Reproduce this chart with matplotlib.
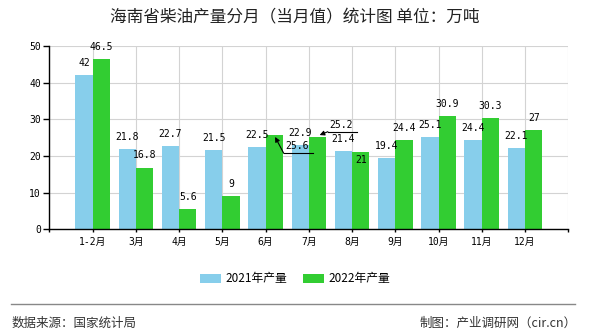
#!/usr/bin/env python3
# -*- coding: utf-8 -*-

# Import Python modules.
import matplotlib
matplotlib.use('Agg')
import matplotlib.pyplot as plt
from matplotlib.patches import Patch
from matplotlib.lines import Line2D
import numpy as np


# Chart data.
months = ['1-2月', '3月', '4月', '5月', '6月', '7月', '8月', '9月',
          '10月', '11月', '12月']
output_2021 = [42, 21.8, 22.7, 21.5, 22.5, 22.9, 21.4, 19.4, 25.1, 24.4, 22.1]
output_2022 = [46.5, 16.8, 5.6, 9, 25.6, 25.2, 21, 24.4, 30.9, 30.3, 27]
series_names = ['2021年产量', '2022年产量']
title = '海南省柴油产量分月（当月值）统计图 单位：万吨'
source_text = '数据来源：国家统计局'
credit_text = '制图：产业调研网（cir.cn）'

BLUE = '#87ceeb'
GREEN = '#32cd32'
CJK = ['Noto Sans CJK SC', 'DejaVu Sans']
NUM = ['DejaVu Sans Mono', 'Noto Sans CJK SC']

plt.rcParams['font.family'] = CJK

fig = plt.figure(figsize=(5.9, 3.3), dpi=100)
fig.patch.set_facecolor('white')
ax = fig.add_axes([0.0836, 0.3052, 0.8796, 0.5554])

x = np.arange(len(months))
w = 0.4
ax.bar(x - w / 2, output_2021, width=w, color=BLUE, zorder=2)
ax.bar(x + w / 2, output_2022, width=w, color=GREEN, zorder=2)

ax.set_xlim(-1, len(months))
ax.set_ylim(0, 50)
ax.set_xticks(np.arange(-1, len(months) + 1))
ax.set_xticklabels([''] + months + [''], family=NUM, fontsize=7)
ax.set_yticks(np.arange(0, 51, 10))
ax.set_yticklabels([str(v) for v in range(0, 51, 10)], family=NUM, fontsize=7)
ax.tick_params('x', length=2.5, width=1, pad=3, color='black')
ax.tick_params('y', length=4, width=1, pad=2, color='black')
ax.grid(True, color='#d3d3d3', linewidth=0.8, zorder=0)
ax.set_axisbelow(True)
for side in ['top', 'right']:
    ax.spines[side].set_visible(False)
for side in ['left', 'bottom']:
    ax.spines[side].set_color('black')
    ax.spines[side].set_linewidth(1)
    ax.spines[side].set_zorder(3)

# Value labels; a few are moved so they do not overlap.
lbl = dict(family=NUM, fontsize=7, ha='center', va='center', zorder=4)
for i, v in enumerate(output_2021):
    ax.annotate(f'{v:g}', xy=(i - w / 2, v), xytext=(0, 8.8),
                textcoords='offset points', **lbl)
for i, v in enumerate(output_2022):
    if months[i] == '6月':
        ax.text(i + w / 2 + 0.53, v - 2.9, f'{v:g}', **lbl)
        ax.plot([i + w / 2 + 0.22, i + w / 2 + 0.9], [v - 4.87, v - 4.87],
                color='black', lw=0.8, zorder=4)
        ax.annotate('', xy=(i + w / 2 + 0.02, v - 0.4),
                    xytext=(i + w / 2 + 0.22, v - 4.87),
                    arrowprops=dict(arrowstyle='-|>', color='black', lw=0.8,
                                    mutation_scale=7, shrinkA=0, shrinkB=0),
                    zorder=4)
    elif months[i] == '7月':
        ax.text(i + w / 2 + 0.54, v + 3.25, f'{v:g}', **lbl)
        ax.plot([i + w / 2 + 0.24, i + w / 2 + 0.91], [v + 1.42, v + 1.42],
                color='black', lw=0.8, zorder=4)
        ax.annotate('', xy=(i + w / 2 + 0.05, v + 0.5),
                    xytext=(i + w / 2 + 0.24, v + 1.42),
                    arrowprops=dict(arrowstyle='-|>', color='black', lw=0.8,
                                    mutation_scale=7, shrinkA=0, shrinkB=0),
                    zorder=4)
    elif months[i] == '8月':
        ax.text(i + w / 2, v - 2.1, f'{v:g}', **lbl)
    else:
        ax.annotate(f'{v:g}', xy=(i + w / 2, v), xytext=(0, 8.8),
                    textcoords='offset points', **lbl)

fig.text(0.5, 0.945, title, ha='center', va='center', fontsize=12,
         color='#222222')

handles = [Patch(facecolor=BLUE, edgecolor='none'),
           Patch(facecolor=GREEN, edgecolor='none')]
fig.legend(handles, series_names, loc='center', bbox_to_anchor=(0.5, 0.155),
           ncol=2, frameon=False, fontsize=8.5, handlelength=1.8,
           handleheight=0.8, handletextpad=0.4, columnspacing=1.3)

fig.add_artist(Line2D([0.018, 0.975], [0.08, 0.08], color='#888888', lw=1))
fig.text(0.019, 0.02, source_text, ha='left', va='center', fontsize=9,
         color='#333333')
fig.text(0.978, 0.02, credit_text, ha='right', va='center', fontsize=9,
         color='#333333')

fig.savefig('out.png', dpi=100)
